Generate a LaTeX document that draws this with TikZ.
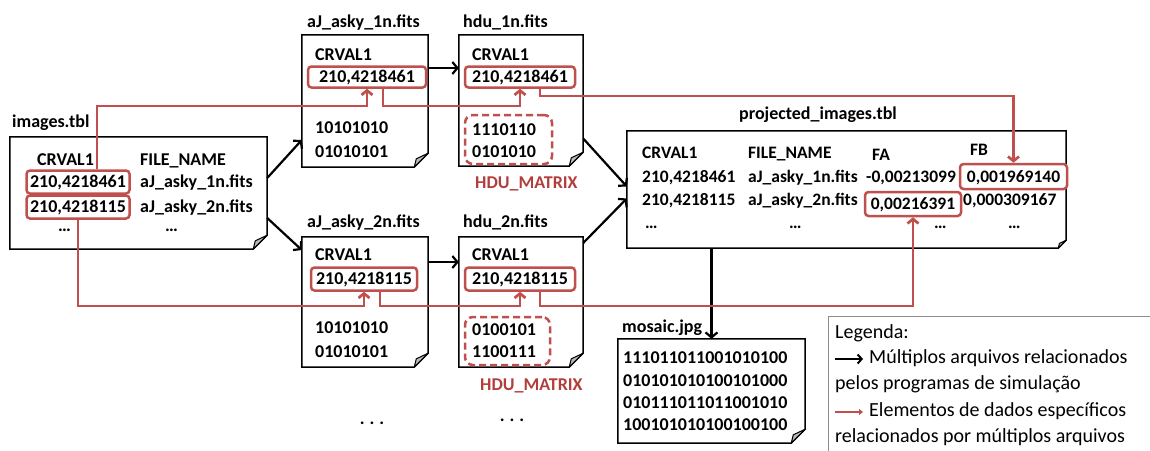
\documentclass[tikz,border=0pt]{standalone}
\usepackage{fontspec}
\setmainfont{Carlito}
\usetikzlibrary{arrows.meta,calc}
\definecolor{cred}{RGB}{192,80,77}
\definecolor{cdred}{RGB}{178,62,60}
\definecolor{cear}{RGB}{185,185,185}
\newcommand\docshape[2]{%
  \draw[docline] (#1.north west) -- (#1.north east) -- ($(#1.south east)+(0,-#2)$) -- ($(#1.south east)+(-#2,0)$) -- (#1.south west) -- cycle;
  \filldraw[earline] ($(#1.south east)+(0,-#2)$) -- ($(#1.south east)+(-#2,0)$) -- ($(#1.south east)+(-0.85*#2,-0.6*#2)$) -- cycle;}
\begin{document}
\begin{tikzpicture}[x=1pt,y=-1pt,
  txt/.style={anchor=west,inner sep=0pt,font=\fontsize{18}{20}\selectfont\bfseries,text height=11.6pt,text depth=0pt},
  ptxt/.style={txt,font=\fontsize{17.5}{20}\selectfont\bfseries},
  htxt/.style={txt,text=cdred},
  ltxt/.style={anchor=west,inner sep=0pt,font=\fontsize{20}{24}\selectfont,text height=12.9pt,text depth=0pt},
  doc/.style={inner sep=0pt,minimum width=#1},
  docline/.style={line width=1.5pt,line join=miter},
  earline/.style={fill=cear,draw=black,line width=1pt,line join=round},
  rbox/.style={draw=cred,line width=2.5pt,rounded corners=3.5pt,fill=white,inner sep=0pt,
     font=\fontsize{18}{20}\selectfont\bfseries,text height=11.6pt,text depth=0pt,minimum height=#1},
  dbox/.style={draw=cred,line width=2.5pt,dash pattern=on 7pt off 4pt,rounded corners=8pt,inner sep=0pt},
  rarr/.style={draw=cred,line width=2.7pt,-{Straight Barb[length=4.5pt,width=11pt]}},
  barr/.style={line width=2.2pt,-{Straight Barb[length=5pt,width=12pt]}},
  dots/.style={inner sep=0pt,font=\fontsize{18}{18}\selectfont\bfseries}
]
\useasboundingbox (0,0) rectangle (1150,450);
\clip (0,0) rectangle (1150,450);

% ---------- document frames ----------
\node[doc=257pt,minimum height=112pt] (img) at (138.5,193) {};
\node[doc=126pt,minimum height=132pt] (aj1) at (365,101) {};
\node[doc=124pt,minimum height=131pt] (hd1) at (521,100.5) {};
\node[doc=126pt,minimum height=130pt] (aj2) at (365,302) {};
\node[doc=124pt,minimum height=130pt] (hd2) at (521,302) {};
\node[doc=439pt,minimum height=117pt] (prj) at (846.5,189.5) {};
\node[doc=187pt,minimum height=104pt] (mos) at (711.5,391) {};
\docshape{img}{14}
\docshape{aj1}{14}
\docshape{hd1}{14}
\docshape{aj2}{14}
\docshape{hd2}{14}
\docshape{prj}{8}
\docshape{mos}{14}

% ---------- titles ----------
\node[txt] (Limg) at (12,122) {images.tbl};
\node[txt] (Laj1) at (307,22) {aJ\_asky\_1n.fits};
\node[txt] (Lhd1) at (463,22) {hdu\_1n.fits};
\node[txt] (Laj2) at (307,222) {aJ\_asky\_2n.fits};
\node[txt] (Lhd2) at (463,222) {hdu\_2n.fits};
\node[txt] (Lprj) at (739,114) {projected\_images.tbl};
\node[txt] (Lmos) at (622,327) {mosaic.jpg};

% ---------- images.tbl ----------
\node[txt] (ic1) at (37,160) {CRVAL1};
\node[txt] (ic2) at (140,160) {FILE\_NAME};
\node[rbox=23pt,minimum width=103pt] (i1) at (78,182) {210,4218461};
\node[rbox=23pt,minimum width=103pt] (i2) at (78,207) {210,4218115};
\node[txt] (if1) at (140,182) {aJ\_asky\_1n.fits};
\node[txt] (if2) at (140,207) {aJ\_asky\_2n.fits};
\node[txt] (id1) at (58,226) {…};
\node[txt] (id2) at (165,226) {…};

% ---------- aJ_asky_1n ----------
\node[txt] (ac1) at (315,55) {CRVAL1};
\node[rbox=21pt,minimum width=118pt] (a1) at (367,77) {210,4218461};
\node[txt] (ab1) at (315,128) {10101010};
\node[txt] (ab2) at (315,152) {01010101};

% ---------- hdu_1n ----------
\node[txt] (hc1) at (472,55) {CRVAL1};
\node[rbox=21pt,minimum width=110pt] (h1) at (520,77) {210,4218461};
\node[dbox,minimum width=87pt,minimum height=49pt] (d1) at (508.5,139.5) {};
\node[txt] (hb1) at (472,130) {1110110};
\node[txt] (hb2) at (472,152) {0101010};
\node[htxt] (hm1) at (475,183) {HDU\_MATRIX};

% ---------- aJ_asky_2n ----------
\node[txt] (ac2) at (315,255) {CRVAL1};
\node[rbox=23pt,minimum width=106pt] (a2) at (364,279) {210,4218115};
\node[txt] (ab3) at (315,328) {10101010};
\node[txt] (ab4) at (315,352) {01010101};

% ---------- hdu_2n ----------
\node[txt] (hc2) at (472,255) {CRVAL1};
\node[rbox=23pt,minimum width=110pt] (h2) at (520,279) {210,4218115};
\node[dbox,minimum width=85pt,minimum height=48pt] (d2) at (507.5,341) {};
\node[txt] (hb3) at (472,330) {0100101};
\node[txt] (hb4) at (472,352) {1100111};
\node[htxt] (hm2) at (480,385) {HDU\_MATRIX};

% ---------- projected_images.tbl ----------
\node[ptxt] (pc1) at (642,153) {CRVAL1};
\node[ptxt] (pc2) at (748,153) {FILE\_NAME};
\node[ptxt] (pc3) at (872,155) {FA};
\node[ptxt] (pc4) at (970,150) {FB};
\node[ptxt] (pr11) at (642,177) {210,4218461};
\node[ptxt] (pr12) at (748,177) {aJ\_asky\_1n.fits};
\node[ptxt] (pr13) at (866,177) {-0,00213099};
\node[rbox=25pt,minimum width=107pt,font=\fontsize{17.5}{20}\selectfont\bfseries] (FB) at (1013.5,176.5) {0,001969140};
\node[ptxt] (pr21) at (642,200) {210,4218115};
\node[ptxt] (pr22) at (748,200) {aJ\_asky\_2n.fits};
\node[rbox=24pt,minimum width=96pt,font=\fontsize{17.5}{20}\selectfont\bfseries] (FA) at (913,204) {0,00216391};
\node[ptxt] (pr24) at (963,200) {0,000309167};
\node[ptxt] (pd1) at (645,223) {…};
\node[ptxt] (pd2) at (789,223) {…};
\node[ptxt] (pd3) at (934,223) {…};
\node[ptxt] (pd4) at (1008,223) {…};

% ---------- mosaic.jpg ----------
\node[txt] (m1) at (623,358) {111011011001010100};
\node[txt] (m2) at (623,381) {010101010100101000};
\node[txt] (m3) at (623,403) {010111011011001010};
\node[txt] (m4) at (623,425) {100101010100100100};

% ---------- dots ----------
\node[dots] (dd1) at (372,423) {.\hspace{5pt}.\hspace{5pt}.};
\node[dots] (dd2) at (512,420) {.\hspace{5pt}.\hspace{5pt}.};

% ---------- black arrows ----------
\draw[barr] ($(img.east)+(0,-15)$) -- ($(aj1.west)+(0,39)$);
\draw[barr] ($(img.east)+(0,25)$) -- ($(aj2.west)+(0,-52)$);
\coordinate (b1) at ($(aj1.east)+(0,-33)$);
\draw[barr] (b1) -- (b1 -| hd1.west);
\coordinate (b2) at ($(aj2.east)+(0,-40)$);
\draw[barr] (b2) -- (b2 -| hd2.west);
\draw[barr] ($(hd1.east)+(0,38)$) -- ($(prj.west)+(0,-3)$);
\draw[barr] ($(hd2.east)+(0,-59)$) -- ($(prj.west)+(0,9)$);
\draw[barr] (mos.north |- prj.south) -- (mos.north);

% ---------- red arrows ----------
\coordinate (ly1) at (0,106);
\coordinate (ly2) at (0,96);
\coordinate (ly3) at (0,306);
\coordinate (p1) at ($(i1.north)+(19,0)$);
\draw[rarr] (p1) -- (p1 |- ly1) -| (a1.south);
\coordinate (p2) at ($(a1.south)+(16,0)$);
\draw[rarr] (p2) -- (p2 |- ly1) -| (h1.south);
\coordinate (p3) at ($(h1.south)+(20,0)$);
\draw[rarr] (p3) -- (p3 |- ly2) -| (FB.north);
\draw[rarr] (i2.south) -- (i2.south |- ly3) -| (a2.south);
\coordinate (p5) at ($(a2.south)+(16,0)$);
\draw[rarr] (p5) -- (p5 |- ly3) -| (h2.south);
\coordinate (p6) at ($(h2.south)+(20,0)$);
\draw[rarr] (p6) -- (p6 |- ly3) -| (FA.south);

% ---------- legend ----------
\node[draw=black!45,line width=1pt,anchor=north west,minimum width=340pt,minimum height=150pt,inner sep=0pt] (leg) at (828,316) {};
\node[ltxt] (lg0) at (835,332) {Legenda:};
\coordinate (la1) at (835,359);
\coordinate (la2) at (863,359);
\draw[line width=2pt,-{Straight Barb[length=4pt,width=9pt]}] (la1) -- (la2);
\node[ltxt] (lg1) at (869,357) {Múltiplos arquivos relacionados};
\node[ltxt] (lg2) at (835,383) {pelos programas de simulação};
\coordinate (lb1) at (835,412);
\coordinate (lb2) at (863,412);
\draw[draw=cred,line width=2pt,-{Triangle[length=4pt,width=6pt]}] (lb1) -- (lb2);
\node[ltxt] (lg3) at (869,410) {Elementos de dados específicos};
\node[ltxt] (lg4) at (835,436) {relacionados por múltiplos arquivos};
\end{tikzpicture}
\end{document}
